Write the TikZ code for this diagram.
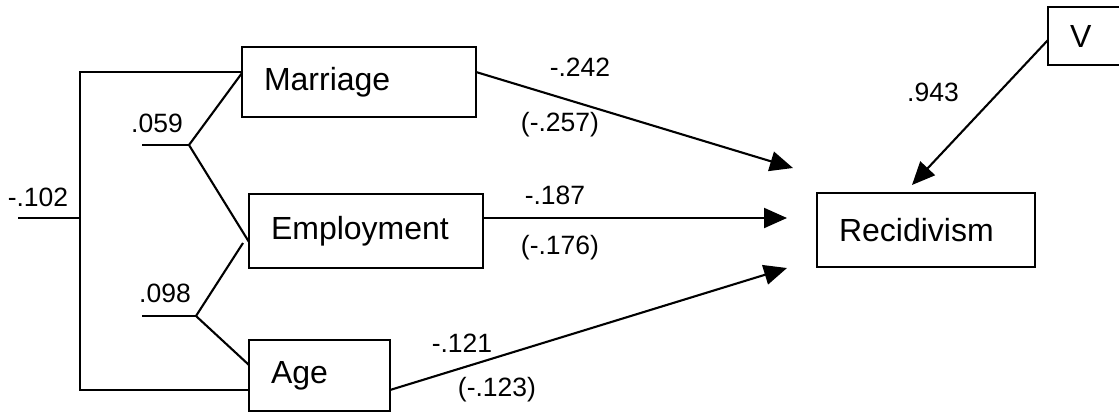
\documentclass[tikz,border=0pt]{standalone}
\usepackage{fontspec}
\setmainfont{Liberation Sans}
\usetikzlibrary{arrows.meta,calc}
\begin{document}
\begin{tikzpicture}[x=1pt,y=-1pt,
  var/.style={draw, line width=2.1pt, anchor=north west, outer sep=0pt,
    inner xsep=22pt, inner ysep=0pt, align=left,
    font=\fontsize{32}{37}\selectfont},
  coef/.style={font=\fontsize{26.5}{30}\selectfont, inner sep=0pt},
  link/.style={line width=2.1pt},
  effect/.style={link, -{Triangle[length=23pt,width=20pt]}}
]
\useasboundingbox (0,0) rectangle (1119,413);

% variables
\node[var, text width=190pt, minimum height=70pt] (mar) at (242,47) {Marriage};
\node[var, text width=190pt, minimum height=74pt] (emp) at (249,194) {Employment};
\node[var, text width=97pt,  minimum height=71pt] (age) at (249,340) {Age};
\node[var, text width=174pt, minimum height=74pt] (rec) at (817,193) {Recidivism};
\node[var, text width=34pt,  minimum height=58pt] (v)   at (1048,7) {V};

% attachment points for the correlation brackets
\coordinate (mTop) at ($(mar.north west)+(0,25)$);
\coordinate (aBot) at ($(age.north west)+(0,50)$);
\coordinate (brk)  at (80,218);
\coordinate (s102) at (18,218);
\coordinate (j1)   at (189,145);
\coordinate (s059) at (142,145);
\coordinate (j2)   at (196,316);
\coordinate (s098) at (142,316);

% correlation between marriage and age
\draw[link] (mTop) -| (brk) |- (aBot);
\draw[link] (s102) -- (brk);
\node[coef] (l102) at (38,197) {-.102};

% correlation between marriage and employment
\draw[link] (s059) -- (j1);
\draw[link] ($(mar.north west)+(0,26)$) -- (j1) -- ($(emp.north west)+(0,48)$);
\node[coef] (l059) at (157,123) {.059};

% correlation between employment and age
\draw[link] (s098) -- (j2);
\draw[link] ($(emp.north west)+(-6,49)$) -- (j2) -- ($(age.north west)+(0,25)$);
\node[coef] (l098) at (165,293) {.098};

% paths into recidivism
\draw[effect] ($(mar.east)+(0,-10)$) -- ($(rec.north west)+(-24,-25)$);
\draw[effect] ($(emp.east)+(0,-13)$) -- ($(rec.north west)+(-30,25)$);
\draw[effect] ($(age.east)+(0,14.5)$) -- ($(rec.south west)+(-30,1)$);
\draw[effect] ($(v.west)+(0,4)$) -- ($(rec.north west)+(95,-8)$);

% path coefficients
\node[coef] (c242) at (580,67)  {-.242};
\node[coef] (c257) at (560,125) {(-.257)};
\node[coef] (c187) at (555,195) {-.187};
\node[coef] (c176) at (560,248) {(-.176)};
\node[coef] (c121) at (462,343) {-.121};
\node[coef] (c123) at (497,390) {(-.123)};
\node[coef] (c943) at (933,92)  {.943};
\end{tikzpicture}
\end{document}
